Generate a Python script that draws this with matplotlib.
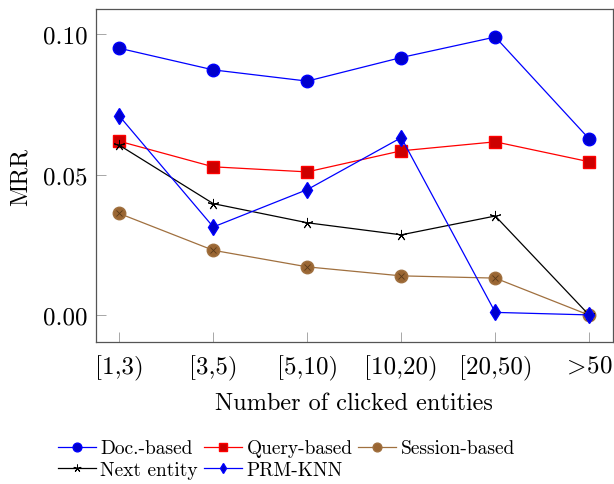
import matplotlib
matplotlib.use('Agg')
import matplotlib.pyplot as plt

plt.rcParams['font.family'] = 'serif'
plt.rcParams['font.serif'] = ['cmr10', 'DejaVu Serif']
plt.rcParams['mathtext.fontset'] = 'cm'
plt.rcParams['axes.formatter.use_mathtext'] = True

# Data
bins = ['[1,3)', '[3,5)', '[5,10)', '[10,20)', '[20,50)', '$\\!>\\!$50']
doc_based = [0.0950, 0.0873, 0.0833, 0.0917, 0.0990, 0.0627]
query_based = [0.0619, 0.0528, 0.0510, 0.0585, 0.0617, 0.0546]
session_based = [0.0362, 0.0231, 0.0172, 0.0140, 0.0132, 0.0000]
next_entity = [0.0605, 0.0397, 0.0329, 0.0286, 0.0353, 0.0000]
prm_knn = [0.0709, 0.0314, 0.0447, 0.0632, 0.0010, 0.0001]

x = list(range(len(bins)))

fig = plt.figure(figsize=(6.14, 4.85), dpi=100)
ax = fig.add_axes([0.156, 0.293, 0.842, 0.686])

lw = 0.9
h_doc, = ax.plot(x, doc_based, color='blue', lw=lw, marker='o', ms=9,
                 mfc='#0000cc', mec='blue', label='Doc.-based')
h_query, = ax.plot(x, query_based, color='red', lw=lw, marker='s', ms=8.5,
                   mfc='#cc0000', mec='red', label='Query-based')
h_sess, = ax.plot(x, session_based, color='#a0703f', lw=lw, marker='o', ms=9,
                  mfc='#9a6633', mec='#a0703f', label='Session-based')
ax.plot(x, session_based, ls='none', marker='x', ms=5, mew=0.6, color='#5a3a1a')
h_next, = ax.plot(x, next_entity, color='black', lw=lw, marker=(5, 2, 0), ms=8,
                  mew=0.7, label='Next entity')
h_prm, = ax.plot(x, prm_knn, color='blue', lw=lw, marker='d', ms=8,
                 mfc='#0000cc', mec='blue', label='PRM-KNN')

ax.set_xlim(-0.25, 5.25)
ax.set_ylim(-0.0095, 0.1089)
ax.set_xticks(x)
ax.set_xticklabels(bins)
ax.set_yticks([0.0, 0.05, 0.10])
ax.set_yticklabels(['0.00', '0.05', '0.10'])
ax.tick_params(labelsize=18, direction='in', length=7, width=0.6, color='#999999', pad=9)
ax.tick_params(axis='y', pad=6)
for s in ax.spines.values():
    s.set_linewidth(0.9)
    s.set_color('#555555')

ax.set_xlabel('Number of clicked entities', fontsize=17.5, labelpad=9)
ax.set_ylabel('MRR', fontsize=17.5, labelpad=8)

fig.legend([h_doc, h_next, h_query, h_prm, h_sess],
           ['Doc.-based', 'Next entity', 'Query-based', 'PRM-KNN', 'Session-based'],
           ncol=3, loc='upper left', bbox_to_anchor=(0.078, 0.112), frameon=False,
           fontsize=14, handlelength=1.95, handletextpad=0.25, columnspacing=0.3,
           labelspacing=0.2, borderpad=0.0, markerscale=0.7)

fig.savefig('out.png', dpi=100)
